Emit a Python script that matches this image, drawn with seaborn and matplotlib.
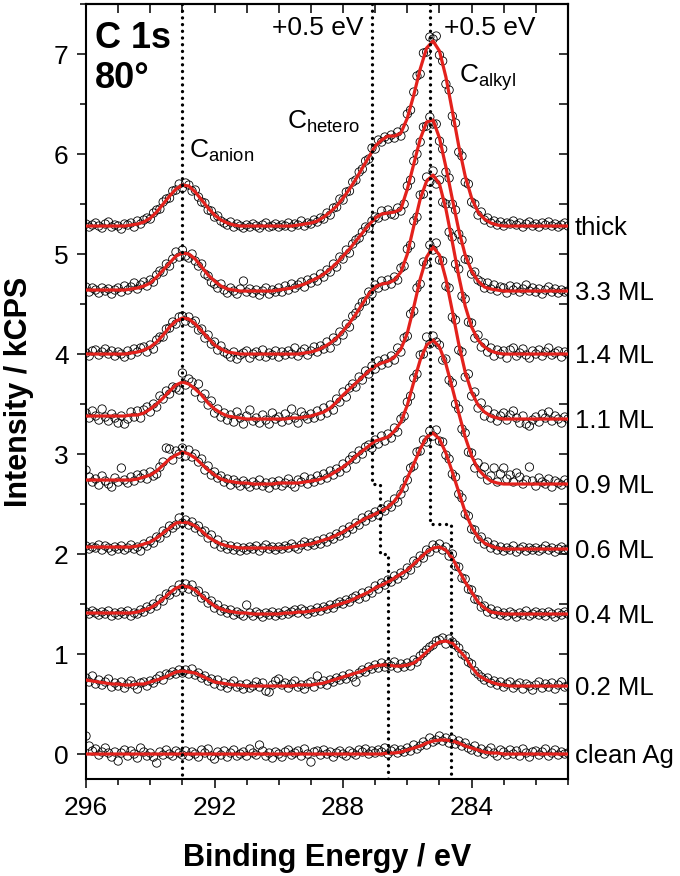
import numpy as np
import matplotlib
matplotlib.use("Agg")
import matplotlib.pyplot as plt
from matplotlib.ticker import MultipleLocator
from matplotlib.transforms import blended_transform_factory
import seaborn as sns

# binding energy scan grids (eV): fitted envelopes every 0.2 eV, measured points every 0.1 eV
fit_energy = np.round(np.linspace(296.0, 281.0, 76), 2)
data_energy = np.round(np.linspace(296.0, 281.0, 151), 2)

labels = ["thick", "3.3 ML", "1.4 ML", "1.1 ML", "0.9 ML", "0.6 ML", "0.4 ML", "0.2 ML", "clean Ag"]

# fitted envelopes (kCPS, already offset)
fit_thick = [5.28, 5.28, 5.28, 5.28, 5.28, 5.28, 5.28, 5.29, 5.30, 5.32,
             5.36, 5.42, 5.50, 5.58, 5.65, 5.69, 5.68, 5.62, 5.54, 5.46,
             5.39, 5.34, 5.31, 5.29, 5.28, 5.28, 5.28, 5.28, 5.28, 5.28,
             5.28, 5.28, 5.28, 5.29, 5.30, 5.31, 5.33, 5.37, 5.42, 5.48,
             5.56, 5.65, 5.75, 5.86, 5.97, 6.08, 6.14, 6.18, 6.18, 6.21,
             6.36, 6.59, 6.85, 7.06, 7.13, 7.03, 6.77, 6.43, 6.08, 5.78,
             5.56, 5.42, 5.35, 5.31, 5.29, 5.28, 5.28, 5.28, 5.28, 5.28,
             5.28, 5.28, 5.28, 5.28, 5.28, 5.28]
fit_33 = [4.64, 4.64, 4.64, 4.64, 4.64, 4.64, 4.64, 4.65, 4.66, 4.68,
          4.71, 4.77, 4.84, 4.91, 4.98, 5.01, 5.00, 4.95, 4.87, 4.79,
          4.73, 4.68, 4.65, 4.64, 4.63, 4.63, 4.63, 4.63, 4.63, 4.63,
          4.64, 4.65, 4.66, 4.68, 4.70, 4.73, 4.76, 4.80, 4.85, 4.91,
          4.98, 5.05, 5.13, 5.21, 5.29, 5.36, 5.40, 5.41, 5.42, 5.45,
          5.65, 5.90, 6.15, 6.32, 6.34, 6.16, 5.87, 5.55, 5.24, 4.99,
          4.83, 4.73, 4.67, 4.65, 4.64, 4.63, 4.63, 4.63, 4.63, 4.63,
          4.63, 4.63, 4.63, 4.63, 4.63, 4.63]
fit_14 = [4.00, 4.00, 4.00, 4.00, 4.00, 4.00, 4.00, 4.01, 4.02, 4.04,
          4.07, 4.12, 4.19, 4.27, 4.33, 4.36, 4.35, 4.30, 4.23, 4.16,
          4.09, 4.05, 4.02, 4.01, 4.00, 4.00, 4.00, 4.00, 4.00, 4.00,
          4.00, 4.00, 4.00, 4.00, 4.01, 4.02, 4.04, 4.07, 4.11, 4.16,
          4.23, 4.31, 4.40, 4.50, 4.60, 4.67, 4.70, 4.71, 4.74, 4.82,
          5.00, 5.28, 5.55, 5.73, 5.79, 5.70, 5.45, 5.12, 4.78, 4.48,
          4.27, 4.14, 4.07, 4.03, 4.01, 4.00, 4.00, 4.00, 4.00, 4.00,
          4.00, 4.00, 4.00, 4.00, 4.00, 4.00]
fit_11 = [3.38, 3.38, 3.38, 3.38, 3.38, 3.38, 3.38, 3.39, 3.39, 3.41,
          3.45, 3.50, 3.56, 3.63, 3.69, 3.72, 3.70, 3.65, 3.59, 3.51,
          3.45, 3.41, 3.38, 3.37, 3.36, 3.35, 3.35, 3.35, 3.35, 3.35,
          3.35, 3.35, 3.36, 3.36, 3.37, 3.38, 3.40, 3.42, 3.46, 3.52,
          3.59, 3.65, 3.71, 3.77, 3.83, 3.88, 3.91, 3.93, 3.97, 4.05,
          4.21, 4.47, 4.75, 4.97, 5.07, 4.99, 4.75, 4.43, 4.10, 3.82,
          3.62, 3.49, 3.42, 3.38, 3.36, 3.35, 3.35, 3.35, 3.35, 3.35,
          3.35, 3.35, 3.35, 3.35, 3.35, 3.35]
fit_09 = [2.74, 2.74, 2.74, 2.74, 2.74, 2.74, 2.74, 2.74, 2.75, 2.77,
          2.79, 2.83, 2.89, 2.95, 2.99, 3.02, 3.00, 2.96, 2.90, 2.84,
          2.79, 2.75, 2.73, 2.72, 2.71, 2.71, 2.70, 2.70, 2.70, 2.70,
          2.71, 2.71, 2.71, 2.71, 2.72, 2.73, 2.74, 2.76, 2.79, 2.83,
          2.87, 2.92, 2.98, 3.03, 3.08, 3.13, 3.15, 3.17, 3.23, 3.32,
          3.49, 3.72, 3.94, 4.09, 4.14, 4.07, 3.90, 3.66, 3.41, 3.17,
          2.98, 2.85, 2.78, 2.73, 2.71, 2.70, 2.70, 2.70, 2.70, 2.70,
          2.70, 2.70, 2.70, 2.70, 2.70, 2.70]
fit_06 = [2.07, 2.07, 2.07, 2.07, 2.07, 2.07, 2.07, 2.07, 2.08, 2.10,
          2.12, 2.16, 2.21, 2.26, 2.31, 2.32, 2.31, 2.28, 2.23, 2.17,
          2.13, 2.10, 2.08, 2.07, 2.06, 2.06, 2.06, 2.06, 2.06, 2.06,
          2.06, 2.06, 2.07, 2.08, 2.09, 2.10, 2.12, 2.14, 2.16, 2.19,
          2.22, 2.26, 2.30, 2.34, 2.37, 2.40, 2.43, 2.47, 2.53, 2.62,
          2.76, 2.90, 3.05, 3.17, 3.21, 3.15, 3.01, 2.82, 2.62, 2.42,
          2.27, 2.17, 2.11, 2.08, 2.06, 2.05, 2.05, 2.05, 2.05, 2.05,
          2.05, 2.05, 2.05, 2.05, 2.05, 2.05]
fit_04 = [1.41, 1.41, 1.41, 1.41, 1.41, 1.41, 1.41, 1.41, 1.42, 1.44,
          1.46, 1.50, 1.55, 1.61, 1.66, 1.68, 1.67, 1.64, 1.58, 1.53,
          1.48, 1.45, 1.43, 1.42, 1.41, 1.41, 1.40, 1.40, 1.40, 1.40,
          1.40, 1.41, 1.41, 1.42, 1.42, 1.43, 1.44, 1.45, 1.47, 1.49,
          1.51, 1.53, 1.56, 1.59, 1.62, 1.66, 1.69, 1.72, 1.76, 1.80,
          1.84, 1.90, 1.96, 2.02, 2.06, 2.07, 2.04, 1.96, 1.84, 1.72,
          1.62, 1.52, 1.46, 1.42, 1.41, 1.40, 1.40, 1.40, 1.40, 1.40,
          1.40, 1.40, 1.40, 1.40, 1.40, 1.40]
fit_02 = [0.74, 0.73, 0.72, 0.71, 0.70, 0.70, 0.69, 0.69, 0.70, 0.70,
          0.72, 0.74, 0.76, 0.79, 0.82, 0.83, 0.82, 0.81, 0.78, 0.75,
          0.72, 0.71, 0.70, 0.69, 0.69, 0.68, 0.68, 0.68, 0.68, 0.68,
          0.68, 0.68, 0.68, 0.69, 0.69, 0.69, 0.70, 0.71, 0.73, 0.75,
          0.77, 0.79, 0.81, 0.83, 0.86, 0.88, 0.89, 0.89, 0.88, 0.88,
          0.89, 0.91, 0.96, 1.02, 1.08, 1.12, 1.13, 1.11, 1.04, 0.97,
          0.87, 0.79, 0.75, 0.72, 0.70, 0.69, 0.68, 0.68, 0.68, 0.68,
          0.68, 0.68, 0.68, 0.68, 0.68, 0.68]
fit_clean = [0.00, 0.00, 0.00, 0.00, 0.00, 0.00, 0.00, 0.00, 0.00, 0.00,
             0.00, 0.00, 0.00, 0.00, 0.00, 0.00, 0.00, 0.00, 0.00, 0.00,
             0.00, 0.00, 0.00, 0.00, 0.00, 0.00, 0.00, 0.00, 0.00, 0.00,
             0.00, 0.00, 0.00, 0.00, 0.00, 0.00, 0.00, 0.00, 0.00, 0.00,
             0.00, 0.00, 0.00, 0.00, 0.00, 0.00, 0.00, 0.01, 0.01, 0.02,
             0.04, 0.06, 0.08, 0.11, 0.13, 0.14, 0.14, 0.13, 0.11, 0.08,
             0.06, 0.04, 0.02, 0.01, 0.01, 0.00, 0.00, 0.00, 0.00, 0.00,
             0.00, 0.00, 0.00, 0.00, 0.00, 0.00]

# measured points (kCPS, offset), one row = 1 eV
data_thick = [5.30, 5.27, 5.29, 5.31, 5.28, 5.26, 5.30, 5.32, 5.27, 5.29,
              5.28, 5.25, 5.30, 5.29, 5.31, 5.27, 5.33, 5.30, 5.34, 5.36,
              5.35, 5.41, 5.44, 5.45, 5.52, 5.55, 5.56, 5.63, 5.64, 5.70,
              5.66, 5.71, 5.69, 5.63, 5.64, 5.57, 5.52, 5.51, 5.44, 5.43,
              5.37, 5.38, 5.33, 5.31, 5.29, 5.32, 5.27, 5.30, 5.28, 5.26,
              5.29, 5.27, 5.30, 5.28, 5.26, 5.29, 5.31, 5.27, 5.28, 5.30,
              5.27, 5.29, 5.28, 5.31, 5.27, 5.30, 5.29, 5.33, 5.28, 5.31,
              5.30, 5.34, 5.32, 5.36, 5.35, 5.41, 5.39, 5.46, 5.47, 5.55,
              5.54, 5.62, 5.63, 5.72, 5.74, 5.82, 5.85, 5.93, 5.95, 6.06,
              6.05, 6.14, 6.12, 6.17, 6.15, 6.19, 6.16, 6.22, 6.18, 6.26,
              6.40, 6.44, 6.62, 6.78, 6.80, 7.01, 7.02, 7.17, 7.15, 7.18,
              6.99, 6.93, 6.70, 6.64, 6.38, 6.31, 6.02, 5.98, 5.72, 5.70,
              5.52, 5.50, 5.39, 5.42, 5.34, 5.36, 5.31, 5.33, 5.29, 5.32,
              5.28, 5.31, 5.30, 5.33, 5.29, 5.31, 5.27, 5.30, 5.32, 5.28,
              5.30, 5.27, 5.31, 5.29, 5.32, 5.28, 5.30, 5.27, 5.29, 5.31,
              5.28]
data_33 = [4.67, 4.62, 4.66, 4.64, 4.61, 4.66, 4.63, 4.65, 4.60, 4.64,
           4.66, 4.62, 4.68, 4.64, 4.67, 4.71, 4.65, 4.69, 4.72, 4.68,
           4.74, 4.72, 4.79, 4.83, 4.82, 4.90, 4.88, 4.95, 5.02, 4.97,
           5.04, 4.98, 4.96, 5.00, 4.93, 4.88, 4.90, 4.80, 4.78, 4.72,
           4.70, 4.66, 4.70, 4.64, 4.61, 4.66, 4.63, 4.60, 4.65, 4.73,
           4.62, 4.65, 4.61, 4.64, 4.59, 4.63, 4.66, 4.60, 4.64, 4.62,
           4.66, 4.62, 4.68, 4.64, 4.70, 4.66, 4.69, 4.72, 4.67, 4.74,
           4.71, 4.76, 4.73, 4.80, 4.77, 4.84, 4.82, 4.90, 4.87, 4.97,
           4.95, 5.04, 5.01, 5.10, 5.14, 5.16, 5.22, 5.27, 5.26, 5.33,
           5.37, 5.36, 5.43, 5.38, 5.44, 5.40, 5.39, 5.46, 5.43, 5.50,
           5.68, 5.74, 5.93, 6.00, 6.12, 6.27, 6.28, 6.37, 6.30, 6.30,
           6.13, 6.05, 5.82, 5.76, 5.50, 5.44, 5.20, 5.14, 4.95, 4.94,
           4.80, 4.82, 4.74, 4.72, 4.66, 4.71, 4.65, 4.69, 4.63, 4.67,
           4.66, 4.61, 4.68, 4.64, 4.67, 4.62, 4.65, 4.69, 4.63, 4.66,
           4.62, 4.65, 4.60, 4.64, 4.67, 4.62, 4.65, 4.61, 4.64, 4.62,
           4.63]
data_14 = [4.01, 3.98, 4.03, 4.04, 3.99, 4.02, 4.05, 4.00, 4.03, 3.98,
           4.02, 4.00, 3.97, 4.03, 3.99, 4.05, 4.02, 4.06, 4.07, 4.02,
           4.09, 4.05, 4.14, 4.17, 4.17, 4.25, 4.26, 4.32, 4.30, 4.37,
           4.38, 4.33, 4.37, 4.31, 4.33, 4.24, 4.25, 4.16, 4.19, 4.10,
           4.12, 4.04, 4.08, 4.02, 4.00, 3.97, 4.02, 3.95, 3.99, 4.01,
           4.03, 3.96, 4.00, 4.02, 3.98, 4.04, 3.97, 4.01, 3.99, 4.03,
           3.97, 4.02, 3.99, 4.03, 4.00, 4.06, 3.98, 4.02, 4.05, 3.99,
           4.03, 4.07, 4.02, 4.08, 4.05, 4.12, 4.06, 4.16, 4.13, 4.22,
           4.19, 4.30, 4.27, 4.38, 4.41, 4.47, 4.52, 4.53, 4.62, 4.60,
           4.69, 4.66, 4.73, 4.68, 4.74, 4.70, 4.77, 4.74, 4.86, 4.88,
           5.05, 5.09, 5.33, 5.37, 5.59, 5.60, 5.77, 5.72, 5.83, 5.70,
           5.74, 5.52, 5.50, 5.22, 5.17, 4.90, 4.85, 4.58, 4.55, 4.32,
           4.31, 4.16, 4.19, 4.07, 4.11, 4.02, 4.06, 3.98, 4.04, 4.00,
           4.03, 3.96, 4.04, 4.06, 3.98, 4.01, 4.05, 3.99, 3.96, 4.03,
           4.00, 4.04, 3.98, 4.02, 4.06, 3.99, 4.01, 4.03, 3.97, 4.02,
           4.00]
data_11 = [3.41, 3.36, 3.43, 3.38, 3.34, 3.45, 3.37, 3.33, 3.40, 3.36,
           3.31, 3.38, 3.30, 3.35, 3.42, 3.37, 3.43, 3.36, 3.44, 3.47,
           3.42, 3.50, 3.47, 3.58, 3.55, 3.63, 3.60, 3.67, 3.66, 3.64,
           3.81, 3.69, 3.75, 3.72, 3.62, 3.70, 3.56, 3.60, 3.49, 3.53,
           3.41, 3.45, 3.37, 3.41, 3.34, 3.39, 3.32, 3.42, 3.36, 3.30,
           3.38, 3.44, 3.33, 3.36, 3.31, 3.39, 3.34, 3.30, 3.41, 3.35,
           3.37, 3.32, 3.40, 3.34, 3.45, 3.36, 3.31, 3.42, 3.38, 3.35,
           3.40, 3.36, 3.43, 3.38, 3.46, 3.41, 3.49, 3.44, 3.55, 3.52,
           3.62, 3.57, 3.66, 3.70, 3.67, 3.77, 3.74, 3.83, 3.80, 3.88,
           3.85, 3.93, 3.89, 3.95, 3.91, 3.98, 3.94, 4.06, 4.02, 4.16,
           4.18, 4.40, 4.43, 4.66, 4.70, 4.92, 4.90, 5.09, 5.04, 5.11,
           4.94, 4.93, 4.68, 4.66, 4.37, 4.34, 4.04, 4.02, 3.77, 3.80,
           3.58, 3.62, 3.46, 3.51, 3.38, 3.44, 3.36, 3.40, 3.33, 3.38,
           3.41, 3.34, 3.39, 3.43, 3.36, 3.31, 3.38, 3.30, 3.28, 3.34,
           3.37, 3.32, 3.40, 3.36, 3.42, 3.33, 3.38, 3.35, 3.31, 3.37,
           3.35]
data_09 = [2.84, 2.77, 2.72, 2.75, 2.69, 2.78, 2.73, 2.70, 2.67, 2.76,
           2.72, 2.86, 2.74, 2.71, 2.77, 2.73, 2.79, 2.76, 2.80, 2.75,
           2.82, 2.78, 2.80, 2.87, 2.92, 3.06, 3.05, 2.94, 3.03, 3.00,
           3.06, 2.98, 3.04, 2.97, 3.00, 2.92, 2.95, 2.84, 2.88, 2.79,
           2.82, 2.76, 2.78, 2.72, 2.75, 2.69, 2.74, 2.71, 2.68, 2.73,
           2.70, 2.67, 2.72, 2.69, 2.74, 2.68, 2.71, 2.66, 2.72, 2.69,
           2.73, 2.68, 2.71, 2.75, 2.70, 2.67, 2.74, 2.72, 2.77, 2.70,
           2.75, 2.72, 2.78, 2.74, 2.80, 2.76, 2.83, 2.79, 2.85, 2.82,
           2.90, 2.86, 2.94, 2.98, 2.95, 3.03, 3.00, 3.07, 3.09, 3.06,
           3.14, 3.10, 3.18, 3.13, 3.20, 3.16, 3.26, 3.22, 3.35, 3.38,
           3.52, 3.58, 3.76, 3.80, 3.99, 4.00, 4.17, 4.10, 4.18, 4.12,
           4.09, 3.94, 3.95, 3.74, 3.71, 3.50, 3.45, 3.25, 3.21, 3.02,
           3.01, 2.86, 2.91, 2.80, 2.87, 2.74, 2.78, 2.86, 2.72, 2.80,
           2.86, 2.75, 2.79, 2.72, 2.81, 2.77, 2.70, 2.74, 2.87, 2.73,
           2.68, 2.76, 2.72, 2.70, 2.75, 2.67, 2.73, 2.71, 2.69, 2.74,
           2.71]
data_06 = [2.08, 2.05, 2.07, 2.06, 2.09, 2.04, 2.08, 2.06, 2.03, 2.07,
           2.05, 2.08, 2.04, 2.06, 2.09, 2.05, 2.07, 2.03, 2.10, 2.08,
           2.13, 2.11, 2.17, 2.16, 2.23, 2.21, 2.28, 2.26, 2.29, 2.36,
           2.31, 2.34, 2.29, 2.32, 2.26, 2.28, 2.22, 2.23, 2.16, 2.19,
           2.10, 2.14, 2.07, 2.09, 2.05, 2.08, 2.04, 2.07, 2.03, 2.06,
           2.04, 2.07, 2.05, 2.08, 2.03, 2.06, 2.09, 2.05, 2.07, 2.04,
           2.07, 2.05, 2.08, 2.06, 2.10, 2.07, 2.05, 2.09, 2.12, 2.08,
           2.11, 2.09, 2.13, 2.10, 2.15, 2.12, 2.17, 2.15, 2.20, 2.18,
           2.24, 2.21, 2.27, 2.25, 2.31, 2.29, 2.36, 2.33, 2.39, 2.37,
           2.42, 2.39, 2.45, 2.43, 2.49, 2.47, 2.55, 2.52, 2.60, 2.66,
           2.74, 2.86, 2.88, 3.02, 3.03, 3.14, 3.12, 3.23, 3.18, 3.24,
           3.13, 3.12, 2.99, 2.95, 2.80, 2.77, 2.60, 2.56, 2.40, 2.38,
           2.25, 2.24, 2.15, 2.17, 2.10, 2.12, 2.06, 2.09, 2.04, 2.07,
           2.03, 2.06, 2.04, 2.08, 2.02, 2.05, 2.07, 2.03, 2.06, 2.04,
           2.06, 2.03, 2.05, 2.08, 2.04, 2.06, 2.02, 2.05, 2.07, 2.04,
           2.05]
data_04 = [1.42, 1.40, 1.43, 1.41, 1.39, 1.42, 1.40, 1.43, 1.38, 1.41,
           1.39, 1.42, 1.40, 1.43, 1.38, 1.41, 1.40, 1.44, 1.42, 1.47,
           1.45, 1.50, 1.48, 1.55, 1.53, 1.60, 1.59, 1.64, 1.62, 1.69,
           1.66, 1.70, 1.65, 1.69, 1.62, 1.63, 1.56, 1.58, 1.51, 1.53,
           1.46, 1.49, 1.43, 1.45, 1.41, 1.44, 1.39, 1.42, 1.40, 1.38,
           1.49, 1.41, 1.38, 1.42, 1.40, 1.37, 1.41, 1.39, 1.42, 1.38,
           1.41, 1.39, 1.43, 1.40, 1.42, 1.44, 1.41, 1.45, 1.43, 1.40,
           1.44, 1.42, 1.46, 1.43, 1.47, 1.45, 1.49, 1.46, 1.50, 1.52,
           1.50, 1.54, 1.52, 1.56, 1.58, 1.55, 1.61, 1.57, 1.63, 1.61,
           1.68, 1.65, 1.71, 1.69, 1.74, 1.72, 1.78, 1.75, 1.81, 1.79,
           1.86, 1.84, 1.93, 1.91, 1.98, 1.96, 2.04, 2.02, 2.09, 2.06,
           2.10, 2.04, 2.07, 1.98, 2.00, 1.88, 1.87, 1.76, 1.75, 1.65,
           1.64, 1.55, 1.54, 1.47, 1.48, 1.42, 1.45, 1.40, 1.43, 1.39,
           1.41, 1.38, 1.42, 1.40, 1.37, 1.41, 1.39, 1.43, 1.38, 1.40,
           1.42, 1.39, 1.41, 1.38, 1.42, 1.40, 1.37, 1.41, 1.39, 1.42,
           1.40]
data_02 = [0.76, 0.72, 0.78, 0.70, 0.74, 0.69, 0.72, 0.75, 0.67, 0.71,
           0.68, 0.72, 0.66, 0.70, 0.73, 0.69, 0.65, 0.71, 0.72, 0.68,
           0.73, 0.71, 0.75, 0.78, 0.74, 0.80, 0.79, 0.82, 0.80, 0.84,
           0.81, 0.84, 0.80, 0.85, 0.79, 0.81, 0.76, 0.78, 0.73, 0.75,
           0.70, 0.74, 0.68, 0.71, 0.66, 0.70, 0.73, 0.67, 0.69, 0.65,
           0.70, 0.66, 0.68, 0.72, 0.67, 0.71, 0.63, 0.62, 0.69, 0.73,
           0.75, 0.69, 0.71, 0.66, 0.70, 0.73, 0.67, 0.69, 0.65, 0.70,
           0.72, 0.67, 0.78, 0.70, 0.73, 0.69, 0.74, 0.72, 0.76, 0.74,
           0.78, 0.75, 0.80, 0.77, 0.72, 0.81, 0.84, 0.82, 0.87, 0.85,
           0.89, 0.86, 0.91, 0.87, 0.90, 0.88, 0.92, 0.86, 0.90, 0.87,
           0.91, 0.88, 0.94, 0.92, 0.98, 1.01, 1.04, 1.07, 1.09, 1.13,
           1.14, 1.16, 1.10, 1.15, 1.12, 1.09, 1.06, 1.00, 0.98, 0.92,
           0.90, 0.83, 0.80, 0.77, 0.74, 0.76, 0.71, 0.73, 0.69, 0.72,
           0.67, 0.70, 0.72, 0.66, 0.69, 0.71, 0.65, 0.70, 0.68, 0.64,
           0.69, 0.72, 0.66, 0.70, 0.67, 0.71, 0.65, 0.69, 0.72, 0.67,
           0.68]
data_clean = [0.18, 0.08, 0.03, 0.05, -0.01, 0.02, 0.06, 0.01, -0.03, 0.02,
              -0.07, 0.01, 0.04, -0.02, 0.03, 0.00, -0.04, 0.06, 0.02, -0.02,
              0.01, -0.03, -0.09, 0.02, -0.01, 0.04, 0.00, -0.02, 0.03, 0.01,
              -0.01, 0.03, -0.02, 0.02, 0.00, -0.03, 0.04, 0.01, 0.05, -0.02,
              -0.05, 0.02, -0.01, 0.03, -0.03, 0.01, 0.04, -0.02, 0.00, 0.02,
              -0.02, 0.05, 0.01, -0.01, 0.09, 0.03, -0.02, 0.01, -0.04, 0.02,
              0.00, -0.03, 0.02, 0.04, -0.01, 0.01, 0.03, -0.02, 0.05, 0.00,
              -0.08, 0.02, 0.03, -0.01, 0.04, 0.00, 0.02, -0.03, 0.01, 0.03,
              0.00, -0.02, 0.03, 0.01, -0.01, 0.04, 0.02, 0.05, 0.00, 0.03,
              0.01, 0.04, 0.02, 0.06, 0.00, 0.03, 0.05, 0.01, 0.04, 0.02,
              0.06, 0.03, 0.09, 0.05, 0.08, 0.12, 0.09, 0.16, 0.12, 0.14,
              0.18, 0.13, 0.16, 0.11, 0.15, 0.10, 0.13, 0.08, 0.11, 0.06,
              0.04, 0.08, 0.02, 0.05, 0.00, 0.03, 0.06, 0.01, -0.02, 0.04,
              0.02, -0.01, 0.04, 0.00, 0.03, -0.02, 0.05, 0.01, -0.03, 0.02,
              0.03, -0.01, 0.02, 0.05, -0.02, 0.01, 0.04, -0.01, 0.02, 0.00,
              0.01]

# peak reference lines (eV) with the +0.5 eV shift steps
anion_line_x = [293.0, 293.0]
anion_line_y = [7.5, -0.25]
hetero_line_x = [287.1, 287.1, 286.85, 286.85, 286.6, 286.6]
hetero_line_y = [7.5, 2.70, 2.70, 2.00, 2.00, -0.25]
alkyl_line_x = [285.3, 285.3, 284.65, 284.65]
alkyl_line_y = [7.5, 2.30, 2.30, -0.25]

fits = [fit_thick, fit_33, fit_14, fit_11, fit_09, fit_06, fit_04, fit_02, fit_clean]
points = [data_thick, data_33, data_14, data_11, data_09, data_06, data_04, data_02, data_clean]

sns.set_theme(style="ticks", rc={"axes.edgecolor": "black", "xtick.color": "black",
                                 "ytick.color": "black", "text.color": "black",
                                 "axes.labelcolor": "black"})
plt.rcParams["font.family"] = ["Liberation Sans", "DejaVu Sans"]
plt.rcParams["mathtext.fontset"] = "custom"
plt.rcParams["mathtext.rm"] = "Liberation Sans"
plt.rcParams["mathtext.it"] = "Liberation Sans:italic"
plt.rcParams["mathtext.bf"] = "Liberation Sans:bold"

fig = plt.figure(figsize=(6.8, 8.76), dpi=100)
ax = fig.add_axes([0.1265, 0.1107, 0.7088, 0.8847])

red = "#e3211c"
for lab, fit, pts in zip(labels, fits, points):
    sns.scatterplot(x=data_energy, y=pts, ax=ax, marker="o", s=36,
                    facecolor="none", edgecolor="black", linewidth=0.6, zorder=2)
    sns.lineplot(x=fit_energy, y=fit, ax=ax, color=red, lw=2.3, zorder=3,
                 estimator=None, sort=False)

for xs, ys in [(anion_line_x, anion_line_y), (hetero_line_x, hetero_line_y),
               (alkyl_line_x, alkyl_line_y)]:
    ax.plot(xs, ys, color="black", lw=2.4, linestyle=(0, (0.01, 2.0)),
            dash_capstyle="round", solid_capstyle="round", zorder=4)

ax.set_xlim(296, 281)
ax.set_ylim(-0.25, 7.5)

ax.xaxis.set_major_locator(MultipleLocator(4))
ax.xaxis.set_minor_locator(MultipleLocator(1))
ax.yaxis.set_major_locator(MultipleLocator(1))
ax.yaxis.set_minor_locator(MultipleLocator(0.5))
ax.tick_params(axis="both", which="both", direction="out", width=1.1,
               labelsize=19, top=False, right=False)
ax.tick_params(axis="both", which="major", length=6.5)
ax.tick_params(axis="both", which="minor", length=4)
ax.tick_params(axis="x", which="major", pad=6)
ax.tick_params(axis="y", which="major", pad=6)

top = ax.secondary_xaxis("top")
top.xaxis.set_major_locator(MultipleLocator(1))
top.tick_params(axis="x", which="both", direction="in", length=6.5, width=1.1, labeltop=False)
right = ax.secondary_yaxis("right")
right.yaxis.set_major_locator(MultipleLocator(0.5))
right.tick_params(axis="y", which="both", direction="in", length=6.5, width=1.1, labelright=False)

for a in (ax, top, right):
    for sp in a.spines.values():
        sp.set_linewidth(1.5)

ax.set_xlabel("Binding Energy / eV", fontsize=22, fontweight="bold")
ax.set_ylabel("Intensity / kCPS", fontsize=22, fontweight="bold")
ax.xaxis.set_label_coords(0.5, -0.083)
ax.yaxis.set_label_coords(-0.107, 0.5)

ax.text(295.72, 7.33, "C 1s\n80°", fontsize=26, fontweight="bold",
        ha="left", va="top", linespacing=1.2)
ax.text(288.78, 7.19, "+0.5 eV", fontsize=19, ha="center", va="baseline")
ax.text(283.43, 7.19, "+0.5 eV", fontsize=19, ha="center", va="baseline")
ax.text(292.78, 5.96, r"C$_{\rm anion}$", fontsize=19, ha="left", va="baseline")
ax.text(289.74, 6.25, r"C$_{\rm hetero}$", fontsize=19, ha="left", va="baseline")
ax.text(284.40, 6.71, r"C$_{\rm alkyl}$", fontsize=19, ha="left", va="baseline")

trans = blended_transform_factory(ax.transAxes, ax.transData)
for lab, fit in zip(labels, fits):
    ax.text(1.0145, fit[-1] - 0.02, lab, transform=trans, fontsize=18.5,
            ha="left", va="center", clip_on=False)

fig.savefig("out.png", dpi=100)
